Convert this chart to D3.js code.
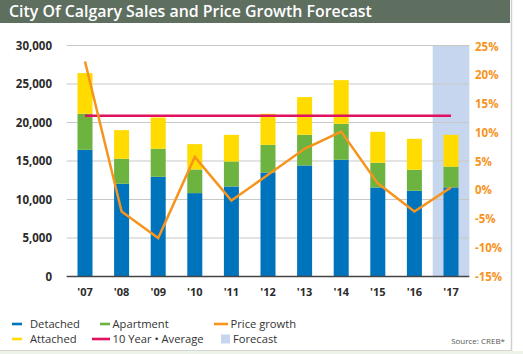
<!DOCTYPE html>
<html>
<head>
<meta charset="utf-8">
<script src="https://cdn.jsdelivr.net/npm/d3@7"></script>
<style>
  body { margin: 0; background: #fff; }
  svg { display: block; font-family: "Open Sans", sans-serif; }
</style>
</head>
<body>
<svg id="chart" width="523" height="354"></svg>
<script>
// chart data
const years = ["'07", "'08", "'09", "'10", "'11", "'12", "'13", "'14", "'15", "'16", "'17"];
const detached  = [16450, 12040, 12950, 10830, 11690, 13510, 14420, 15160, 11560, 11130, 11560];
const apartment = [4680, 3250, 3640, 3070, 3250, 3590, 3980, 4670, 3210, 2730, 2690];
const attached  = [5290, 3720, 4060, 3290, 3460, 4030, 4900, 5670, 4020, 4020, 4150];
const priceGrowth = [22.4, -3.7, -8.3, 5.8, -1.8, 2.7, 7.2, 10.2, 1.2, -3.7, 0.5];
const tenYearAvg = 20870;
const forecastYears = ["'17"];
const leftTicks = [0, 5000, 10000, 15000, 20000, 25000, 30000];
const rightTicks = [-15, -10, -5, 0, 5, 10, 15, 20, 25];

const svg = d3.select("#chart");

// frame + title bar
svg.append("rect").attr("x", 0).attr("y", 351).attr("width", 523).attr("height", 3).attr("fill", "#eef3e8");
svg.append("line").attr("x1", 511.5).attr("x2", 511.5).attr("y1", 0).attr("y2", 351)
  .attr("stroke", "#cfcfcf").attr("stroke-width", 1.5);
svg.append("line").attr("x1", 0).attr("x2", 512).attr("y1", 350.5).attr("y2", 350.5)
  .attr("stroke", "#d6d6d6").attr("stroke-width", 1);
svg.append("rect").attr("x", 0).attr("y", 0).attr("width", 510).attr("height", 23).attr("fill", "#5e6e5f");
svg.append("text").attr("x", 9).attr("y", 17)
  .attr("fill", "#fff").attr("font-size", 15.9).attr("font-weight", 600)
  .text("City Of Calgary Sales and Price Growth Forecast");

const x = d3.scaleBand().domain(years).range([66.7, 469.3]).paddingInner(0.59).paddingOuter(0.295);
const yL = d3.scaleLinear().domain([0, 30000]).range([276.5, 45.5]);
const yR = d3.scaleLinear().domain([-15, 25]).range([276.5, 46.5]);

// forecast band
const band = d3.scaleBand().domain(years).range([66.7, 469.3]);
svg.append("g").selectAll("rect").data(forecastYears).join("rect")
  .attr("x", d => band(d)).attr("width", band.bandwidth())
  .attr("y", yL(30000)).attr("height", yL(0) - yL(30000))
  .attr("fill", "#c6d6ef");

// grid
svg.append("g").selectAll("line").data(leftTicks.slice(1)).join("line")
  .attr("x1", 66.7).attr("x2", 469.3)
  .attr("y1", d => yL(d)).attr("y2", d => yL(d))
  .attr("stroke", "#c8c8c8").attr("stroke-width", 1.2);

// stacked bars
const rows = years.map((y, i) => ({ year: y, detached: detached[i], apartment: apartment[i], attached: attached[i] }));
const keys = ["detached", "apartment", "attached"];
const colors = { detached: "#0073bd", apartment: "#6db33f", attached: "#ffdb00" };
const stacked = d3.stack().keys(keys)(rows);
svg.append("g").selectAll("g").data(stacked).join("g")
  .attr("fill", d => colors[d.key])
  .selectAll("rect").data(d => d).join("rect")
  .attr("x", d => x(d.data.year)).attr("width", x.bandwidth())
  .attr("y", d => yL(d[1])).attr("height", d => yL(d[0]) - yL(d[1]));

// baseline
svg.append("line").attr("x1", 66.7).attr("x2", 469.3).attr("y1", yL(0)).attr("y2", yL(0))
  .attr("stroke", "#444").attr("stroke-width", 1.3);

// 10 year average
const cx = d => x(d) + x.bandwidth() / 2;
svg.append("line")
  .attr("x1", cx(years[0])).attr("x2", cx(years[years.length - 1]))
  .attr("y1", yL(tenYearAvg)).attr("y2", yL(tenYearAvg))
  .attr("stroke", "#e0115f").attr("stroke-width", 2.5);

// price growth line
svg.append("path").datum(priceGrowth)
  .attr("fill", "none").attr("stroke", "#f7941d").attr("stroke-width", 2.5)
  .attr("d", d3.line().x((d, i) => cx(years[i])).y(d => yR(d)));

// axes
const leftAxis = svg.append("g").attr("transform", "translate(52,0)")
  .call(d3.axisLeft(yL).tickValues(leftTicks).tickFormat(d3.format(",")).tickSize(0).tickPadding(0));
leftAxis.select(".domain").remove();
leftAxis.selectAll("text").attr("font-size", 11.5).attr("font-weight", 700).attr("fill", "#2b2b2b")
  .attr("font-family", "'Open Sans', sans-serif");

const rightAxis = svg.append("g").attr("transform", "translate(475,0)")
  .call(d3.axisRight(yR).tickValues(rightTicks).tickFormat(d => d + "%").tickSize(0).tickPadding(0));
rightAxis.select(".domain").remove();
rightAxis.selectAll("text").attr("font-size", 11.5).attr("font-weight", 700).attr("fill", "#f7941d")
  .attr("font-family", "'Open Sans', sans-serif");

const bottomAxis = svg.append("g").attr("transform", "translate(0,288)")
  .call(d3.axisBottom(x).tickSize(0).tickPadding(0));
bottomAxis.select(".domain").remove();
bottomAxis.selectAll("text").attr("font-size", 11).attr("font-weight", 700).attr("fill", "#2b2b2b")
  .attr("font-family", "'Open Sans', sans-serif");

// legend
const legend = [
  { label: "Detached", color: "#0073bd", type: "dash", x: 12, y: 324, w: 10 },
  { label: "Apartment", color: "#6db33f", type: "dash", x: 100, y: 324, w: 10 },
  { label: "Price growth", color: "#f7941d", type: "dash", x: 214, y: 324, w: 14 },
  { label: "Attached", color: "#ffdb00", type: "dash", x: 12, y: 339, w: 10 },
  { label: "10 Year \u2022 Average", color: "#e0115f", type: "dash", x: 92, y: 339, w: 18 },
  { label: "Forecast", color: "#c6d6ef", type: "box", x: 221, y: 339, w: 9 }
];
const lg = svg.append("g").selectAll("g").data(legend).join("g");
lg.append("rect")
  .attr("x", d => d.x).attr("width", d => d.w)
  .attr("y", d => d.type === "box" ? d.y - 4.5 : d.y - 1.3)
  .attr("height", d => d.type === "box" ? 9 : 2.6)
  .attr("fill", d => d.color);
lg.append("text")
  .attr("x", d => d.type === "box" ? 233 : d.x + d.w + (d.x === 12 ? 8 : 2.5))
  .attr("y", d => d.y + 3.8)
  .attr("font-size", 11.2).attr("fill", "#333")
  .text(d => d.label);

svg.append("text").attr("x", 505).attr("y", 344).attr("text-anchor", "end")
  .attr("font-size", 8).attr("fill", "#555").text("Source: CREB*");
</script>
</body>
</html>
